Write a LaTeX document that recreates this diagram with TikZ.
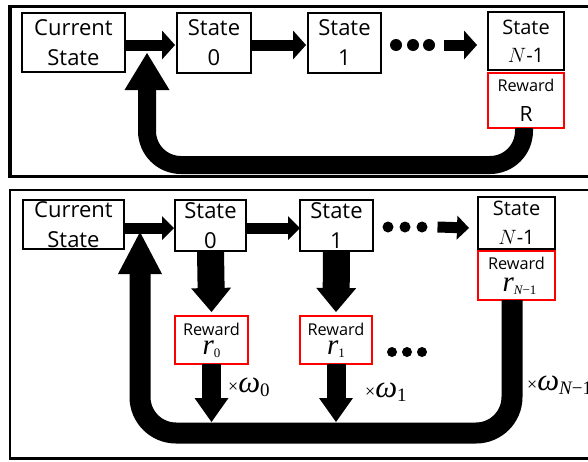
\documentclass[tikz,border=0pt]{standalone}
\usepackage{fontspec}
\newfontfamily\osans{Open Sans}
\newfontfamily\lserif{Liberation Serif}
\usetikzlibrary{arrows.meta}
\tikzset{
  sbox/.style={draw=black, line width=1.8pt, rectangle, inner sep=0pt, outer sep=0pt, align=center},
  rbox/.style={sbox, draw=red},
  bigtxt/.style={font=\osans\fontsize{22}{30}\selectfont},
  midtxt/.style={font=\osans\fontsize{20}{28}\selectfont},
  dotnode/.style={circle, fill=black, inner sep=0pt, outer sep=0pt},
  harrowA/.style={line width=11pt, -{Triangle[length=13pt,width=29pt,line width=0pt]}},
  harrowB/.style={line width=11pt, -{Triangle[length=12pt,width=24pt,line width=0pt]}},
  darrowA/.style={line width=27pt, -{Triangle[length=24pt,width=40pt,line width=0pt]}},
  darrowB/.style={line width=19pt, -{Triangle[length=24pt,width=34pt,line width=0pt]}},
  uarrowA/.style={line width=18pt, rounded corners=34pt, -{Triangle[length=37pt,width=45pt,line width=0pt]}},
  uarrowB/.style={line width=21pt, rounded corners=36pt, -{Triangle[length=42pt,width=44pt,line width=0pt]}},
  wlabel/.style={anchor=base west, inner sep=0pt},
  frameA/.style={draw=black, line width=3.5pt},
  frameB/.style={draw=black, line width=2.5pt},
}
\newcommand{\xw}[1]{{\lserif\fontsize{18}{18}\selectfont ×}{\lserif\itshape\fontsize{31}{31}\selectfont ω}\raisebox{-4pt}{\lserif\fontsize{19}{19}\selectfont #1}}
\newcommand{\rw}[1]{{\lserif\itshape\fontsize{29}{29}\selectfont r}\raisebox{-3pt}{\lserif\fontsize{13}{13}\selectfont #1}}
\begin{document}
\begin{tikzpicture}[x=1pt, y=-1pt]
\useasboundingbox (0,0) rectangle (588,461);
\fill[white] (0,0) rectangle (588,461);
\clip (0,0) rectangle (588,461);

% ---------- top panel ----------
\draw[frameA] (10,6.5) rectangle (640,176.5);
\node[sbox, bigtxt, minimum width=103pt, minimum height=59pt] (cs1) at (73.5,42.5) {Current\\State};
\node[sbox, bigtxt, minimum width=74pt, minimum height=60pt] (s01) at (214,43) {State\\0};
\node[sbox, bigtxt, minimum width=73pt, minimum height=60pt] (s11) at (344.5,43) {State\\1};
\node[sbox, midtxt, minimum width=76pt, minimum height=58pt] (sN1) at (526,41) {State\\$N$-1};
\node[rbox, font=\osans\fontsize{16.3}{30}\selectfont, minimum width=76pt, minimum height=55pt] (R1) at (526,100.5) {Reward\\{\fontsize{21}{21}\selectfont R}};
\node[dotnode, minimum size=12pt] (d11) at (396,45) {};
\node[dotnode, minimum size=12pt] (d12) at (413,45) {};
\node[dotnode, minimum size=12pt] (d13) at (429,45) {};
\coordinate (uc1) at (147,165);
\coordinate (tip1) at (147,53);

\draw[harrowA] ([yshift=-2.5pt]cs1.east) -- ([yshift=-2pt,xshift=-2pt]s01.west);
\draw[harrowA] ([yshift=-2pt]s01.east) -- ([yshift=-2pt,xshift=-2pt]s11.west);
\draw[harrowA] ([xshift=9pt]d13.east) -- ([yshift=-4pt,xshift=-11pt]sN1.west);
\draw[uarrowA] ([xshift=-2pt]R1.south) |- (uc1) -- (tip1);

% ---------- bottom panel ----------
\draw[frameB] (10,190) rectangle (640,458.5);
\node[sbox, bigtxt, minimum width=101pt, minimum height=49pt] (cs2) at (73.5,224.5) {Current\\State};
\node[sbox, bigtxt, minimum width=71pt, minimum height=51pt] (s02) at (210.5,225.5) {State\\0};
\node[sbox, bigtxt, minimum width=73pt, minimum height=51pt] (s12) at (336.5,225.5) {State\\1};
\node[sbox, font=\osans\fontsize{20}{29}\selectfont, minimum width=77pt, minimum height=52pt] (sN2) at (516.5,223) {State\\$N$-1};
\node[rbox, font=\osans\fontsize{16.3}{22}\selectfont, minimum width=77pt, minimum height=49pt] (rN2) at (516.5,275.5) {Reward\\\hspace*{6pt}\rw{{\itshape N}−1}};
\node[rbox, font=\osans\fontsize{16.3}{19}\selectfont, minimum width=73pt, minimum height=48pt] (r02) at (211.5,340) {Reward\\\rw{0}};
\node[rbox, font=\osans\fontsize{16.3}{19}\selectfont, minimum width=72pt, minimum height=48pt] (r12) at (336,340) {Reward\\\rw{1}};
\node[dotnode, minimum size=11pt] (d21) at (388,227) {};
\node[dotnode, minimum size=11pt] (d22) at (405,227) {};
\node[dotnode, minimum size=11pt] (d23) at (422,227) {};
\node[dotnode, minimum size=10pt] (d24) at (392,352) {};
\node[dotnode, minimum size=10pt] (d25) at (407,352) {};
\node[dotnode, minimum size=10pt] (d26) at (422,352) {};
\coordinate (ubot) at (0,422);
\coordinate (uc2) at (140,433);
\coordinate (tip2) at (140,232);

\draw[harrowB] ([yshift=-3.5pt]cs2.east) -- ([yshift=-2.5pt,xshift=-1pt]s02.west);
\draw[harrowB] ([yshift=-2.5pt]s02.east) -- ([yshift=-2.5pt]s12.west);
\draw[harrowB] ([xshift=10pt]d23.east) -- ([yshift=-5pt,xshift=-9pt]sN2.west);
\draw[darrowA] (s02.south) -- ([yshift=4pt]r02.north);
\draw[darrowA] (s12.south) -- ([yshift=4pt]r12.north);
\draw[darrowB] (r02.south) -- (r02.south |- ubot);
\draw[darrowB] (r12.south) -- (r12.south |- ubot);
\draw[uarrowB] ([xshift=-4.5pt]rN2.south) |- (uc2) -- (tip2);

\node[wlabel] (w0) at (228,392) {\xw{0}};
\node[wlabel] (w1) at (365,397) {\xw{1}};
\node[wlabel] (wN) at (527,390) {\xw{{\itshape N}−1}};
\end{tikzpicture}
\end{document}
